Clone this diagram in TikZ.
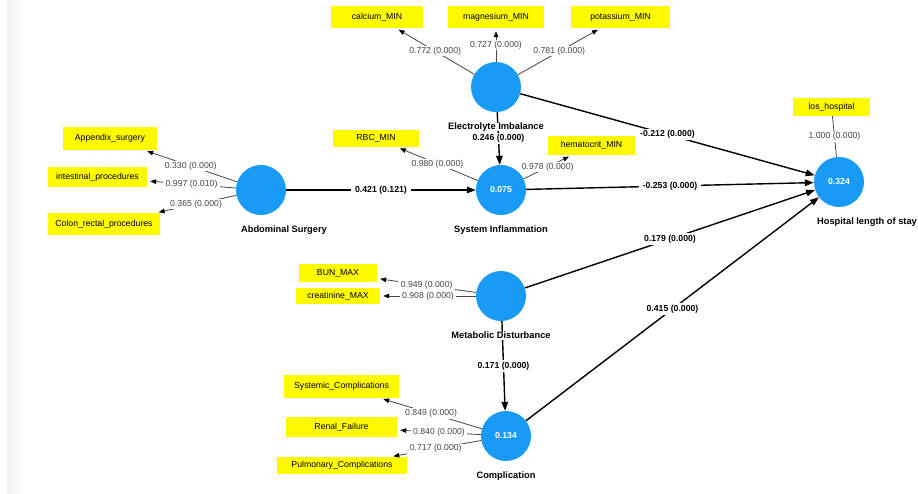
\documentclass[tikz,border=0pt]{standalone}
\usepackage{fontspec}
\setmainfont{Liberation Sans}
\usetikzlibrary{arrows.meta,positioning}
\definecolor{lvblue}{RGB}{25,155,245}
\definecolor{indyellow}{RGB}{255,250,0}
\definecolor{loadgray}{RGB}{70,70,70}
\tikzstyle{latent}=[circle,fill=lvblue,minimum size=50pt,inner sep=0pt,text=white,font=\fontsize{8.7}{10}\selectfont\bfseries]
\tikzstyle{indicator}=[rectangle,fill=indyellow,inner sep=0pt,font=\fontsize{8.7}{10}\selectfont]
\tikzstyle{latname}=[fill=white,inner sep=0pt,text height=6.5pt,text depth=1.5pt,font=\fontsize{9.3}{11}\selectfont\bfseries]
\tikzstyle{loading}=[draw=loadgray,line width=0.8pt,-{Triangle[length=6pt,width=4.5pt,color=black]},shorten >=3pt]
\tikzstyle{loadlbl}=[fill=white,inner xsep=2.5pt,inner ysep=1pt,text=loadgray,font=\fontsize{8.7}{10}\selectfont]
\tikzstyle{structural}=[draw=black,line width=1.4pt,-{Triangle[length=9pt,width=6.5pt]}]
\tikzstyle{pathlbl}=[fill=white,inner xsep=4pt,inner ysep=1.5pt,font=\fontsize{8.7}{10}\selectfont\bfseries]
\newcommand{\drawloadings}[2][]{
	\foreach \a/\b/\l in {#2}{
		\draw[loading,#1] (\a) -- node[loadlbl] {\l} (\b);
	}
}
\newcommand{\drawpaths}[1]{
	\foreach \a/\b/\l in {#1}{
		\draw[structural] (\a) -- node[pathlbl] {\l} (\b);
	}
}

\begin{document}
\begin{tikzpicture}[x=1pt,y=-1pt]
\useasboundingbox (0,0) rectangle (918,493);
\shade[left color=black!5,right color=white] (7,0) rectangle (26,493);

\node[latent] (E) at (496,87) {};
\node[latent] (A) at (261,190) {};
\node[latent] (S) at (501,190) {0.075};
\node[latent] (H) at (839,182) {0.324};
\node[latent] (M) at (501,296) {};
\node[latent] (C) at (506,436) {0.134};

\node[indicator,minimum width=92pt,minimum height=22pt] (calcium) at (377,17) {calcium\_MIN};
\node[indicator,minimum width=96pt,minimum height=22pt] (magnesium) at (496,17) {magnesium\_MIN};
\node[indicator,minimum width=99pt,minimum height=22pt] (potassium) at (620.5,17) {potassium\_MIN};
\node[indicator,minimum width=94pt,minimum height=23pt] (appendix) at (110,138.5) {Appendix\_surgery};
\node[indicator,minimum width=99pt,minimum height=20pt] (intestinal) at (97.5,177) {intestinal\_procedures};
\node[indicator,minimum width=112pt,minimum height=22pt] (colon) at (104,224) {Colon\_rectal\_procedures};
\node[indicator,minimum width=86pt,minimum height=17pt] (rbc) at (376,138.5) {RBC\_MIN};
\node[indicator,minimum width=87pt,minimum height=19pt] (hematocrit) at (591.5,145.5) {hematocrit\_MIN};
\node[indicator,minimum width=77pt,minimum height=18pt] (los) at (831.5,107) {los\_hospital};
\node[indicator,minimum width=78pt,minimum height=18pt] (bun) at (338,273) {BUN\_MAX};
\node[indicator,minimum width=84pt,minimum height=16pt] (creatinine) at (338,296) {creatinine\_MAX};
\node[indicator,minimum width=115pt,minimum height=23pt] (systemic) at (341.5,386.5) {Systemic\_Complications};
\node[indicator,minimum width=111pt,minimum height=20pt] (renal) at (341.5,427) {Renal\_Failure};
\node[indicator,minimum width=130pt,minimum height=17pt] (pulmonary) at (342,465.5) {Pulmonary\_Complications};

\drawloadings{E/calcium/{0.772 (0.000)},E/magnesium/{0.727 (0.000)},E/potassium/{0.781 (0.000)},
	A/appendix/{0.330 (0.000)},A/intestinal/{0.997 (0.010)},A/colon/{0.365 (0.000)},
	S/rbc/{0.980 (0.000)},S/hematocrit/{0.978 (0.000)},
	M/bun/{0.949 (0.000)},M/creatinine/{0.908 (0.000)},
	C/systemic/{0.849 (0.000)},C/renal/{0.840 (0.000)},C/pulmonary/{0.717 (0.000)}}
\drawloadings[-,shorten >=0pt]{H/los/{1.000 (0.000)}}

\drawpaths{A/S/{0.421 (0.121)},E/S/{0.246 (0.000)},E/H/{-0.212 (0.000)},S/H/{-0.253 (0.000)},
	M/H/{0.179 (0.000)},M/C/{0.171 (0.000)},C/H/{0.415 (0.000)}}

\node[latname,below=11pt of E] (Elab) {Electrolyte Imbalance};
\node[latname,below=11pt of A,xshift=23pt] (Alab) {Abdominal Surgery};
\node[latname,below=11pt of S] (Slab) {System Inflammation};
\node[latname,below=11pt of H,xshift=28pt] (Hlab) {Hospital length of stay};
\node[latname,below=11pt of M] (Mlab) {Metabolic Disturbance};
\node[latname,below=11pt of C] (Clab) {Complication};
\end{tikzpicture}
\end{document}
